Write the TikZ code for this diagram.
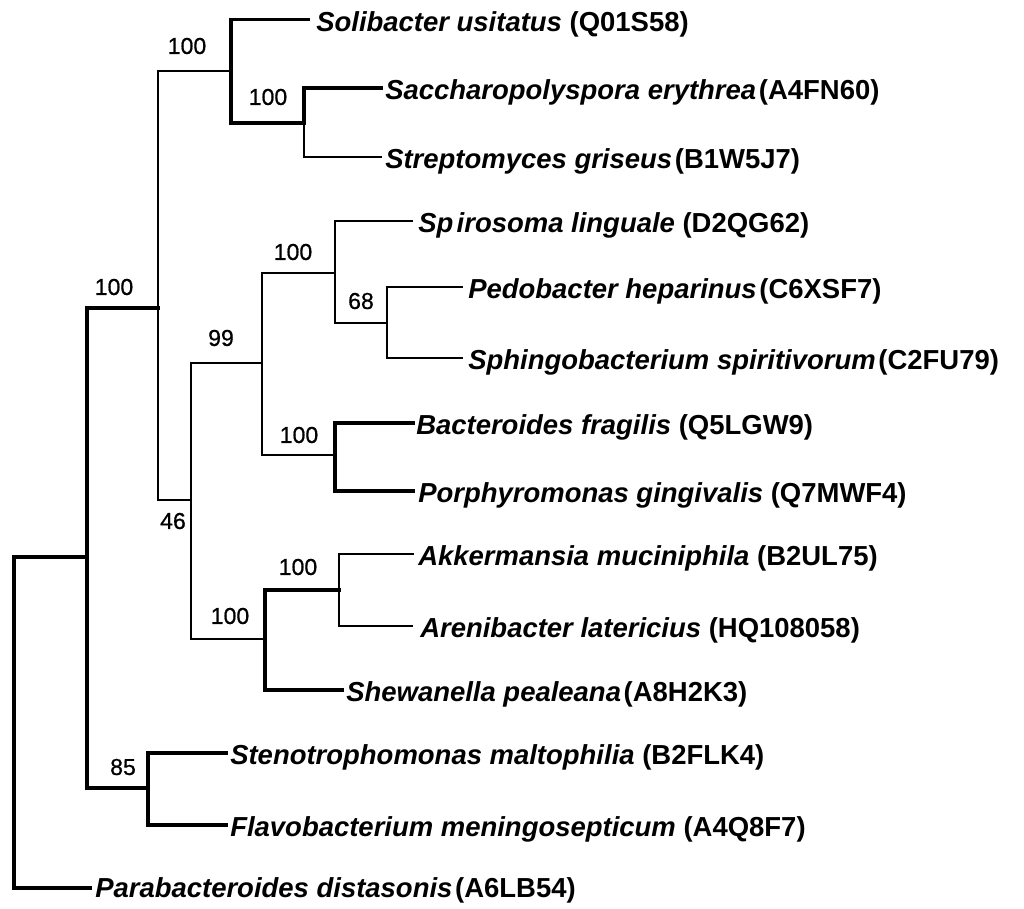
\documentclass[tikz,border=0pt]{standalone}
\usepackage{fontspec}
\setmainfont{Liberation Sans}
\newfontfamily\bsfont[FakeBold=0.7]{Liberation Sans}
\newcommand\sn[1]{{\itshape #1\/}}
\begin{document}
\begin{tikzpicture}[x=0.75pt,y=-0.75pt,
  br/.style={line width=1.5pt,line cap=rect,line join=miter},
  brk/.style={line width=2.3pt,line cap=rect,line join=miter},
  leaf/.style={anchor=base west,inner sep=0pt,font=\fontsize{20.6}{24}\selectfont\bfseries},
  bs/.style={inner sep=0pt,font=\fontsize{17.3}{20}\selectfont\bsfont}]
\useasboundingbox (0,0) rectangle (1024,908);
\fill[white] (0,0) rectangle (1024,908);
% internal nodes
\coordinate (R) at (14,557);
\coordinate (K) at (87,557);
\coordinate (C) at (158,308);
\coordinate (A) at (231,71);
\coordinate (B) at (304,123);
\coordinate (D) at (191,500);
\coordinate (E) at (262,363);
\coordinate (F) at (335,273);
\coordinate (G) at (387,323);
\coordinate (H) at (335,455);
\coordinate (I) at (265,639);
\coordinate (J) at (339,590);
\coordinate (L) at (148,788);
% leaf tips
\coordinate (l1) at (308,19.5);
\coordinate (l2) at (381,88);
\coordinate (l3) at (381,157);
\coordinate (l4) at (412,221);
\coordinate (l5) at (462,287);
\coordinate (l6) at (462,358);
\coordinate (l7) at (413,423);
\coordinate (l8) at (413,491);
\coordinate (l9) at (413,554);
\coordinate (l10) at (412,626);
\coordinate (l11) at (342,690);
\coordinate (l12) at (226,753);
\coordinate (l13) at (226,825);
\coordinate (l14) at (90,888);
% branches
\draw[brk] (R) |- (K);
\draw[brk] (R) |- (l14);
\draw[brk] (K) |- (C);
\draw[brk] (K) |- (L);
\draw[br] (C) |- (A);
\draw[br] (C) |- (D);
\draw[brk] (A) |- (l1);
\draw[brk] (A) |- (B);
\draw[brk] (B) |- (l2);
\draw[br] (B) |- (l3);
\draw[br] (D) |- (E);
\draw[br] (D) |- (I);
\draw[br] (E) |- (F);
\draw[br] (E) |- (H);
\draw[br] (F) |- (l4);
\draw[br] (F) |- (G);
\draw[br] (G) |- (l5);
\draw[br] (G) |- (l6);
\draw[brk] (H) |- (l7);
\draw[brk] (H) |- (l8);
\draw[brk] (I) |- (J);
\draw[brk] (I) |- (l11);
\draw[br] (J) |- (l9);
\draw[br] (J) |- (l10);
\draw[brk] (L) |- (l12);
\draw[brk] (L) |- (l13);
% leaf labels
\node[leaf] (t1) at (316,31) {\sn{Solibacter usitatus} (Q01S58)};
\node[leaf] (t2) at (385,99) {\sn{Saccharopolyspora erythrea}\kern2pt(A4FN60)};
\node[leaf] (t3) at (385,168) {\sn{Streptomyces griseus}\kern2pt(B1W5J7)};
\node[leaf] (t4) at (418,232) {\sn{Sp\kern2.5pt irosoma linguale} (D2QG62)};
\node[leaf] (t5) at (468,298) {\sn{Pedobacter heparinus}\kern2pt(C6XSF7)};
\node[leaf] (t6) at (468,369) {\sn{Sphingobacterium spiritivorum}\kern2pt(C2FU79)};
\node[leaf] (t7) at (416,434) {\sn{Bacteroides fragilis} (Q5LGW9)};
\node[leaf] (t8) at (418,502) {\sn{Porphyromonas gingivalis} (Q7MWF4)};
\node[leaf] (t9) at (418,565) {\sn{Akkermansia muciniphila} (B2UL75)};
\node[leaf] (t10) at (420,637) {\sn{Arenibacter latericius} (HQ108058)};
\node[leaf] (t11) at (346,701) {\sn{Shewanella pealeana}\kern2pt(A8H2K3)};
\node[leaf] (t12) at (230,764) {\sn{Stenotrophomonas maltophilia} (B2FLK4)};
\node[leaf] (t13) at (230,836) {\sn{Flavobacterium meningosepticum} (A4Q8F7)};
\node[leaf] (t14) at (95,897) {\sn{Parabacteroides distasonis}\kern2pt(A6LB54)};
% bootstrap values
\node[bs] (bA) at (187,46) {100};
\node[bs] (bB) at (268,97) {100};
\node[bs] (bC) at (114,287) {100};
\node[bs] (bE) at (221,338) {99};
\node[bs] (bF) at (293,252) {100};
\node[bs] (bG) at (361,301) {68};
\node[bs] (bH) at (299,435) {100};
\node[bs] (bD) at (173,521) {46};
\node[bs] (bI) at (230,616) {100};
\node[bs] (bJ) at (298,567) {100};
\node[bs] (bL) at (123,767) {85};
\end{tikzpicture}
\end{document}
